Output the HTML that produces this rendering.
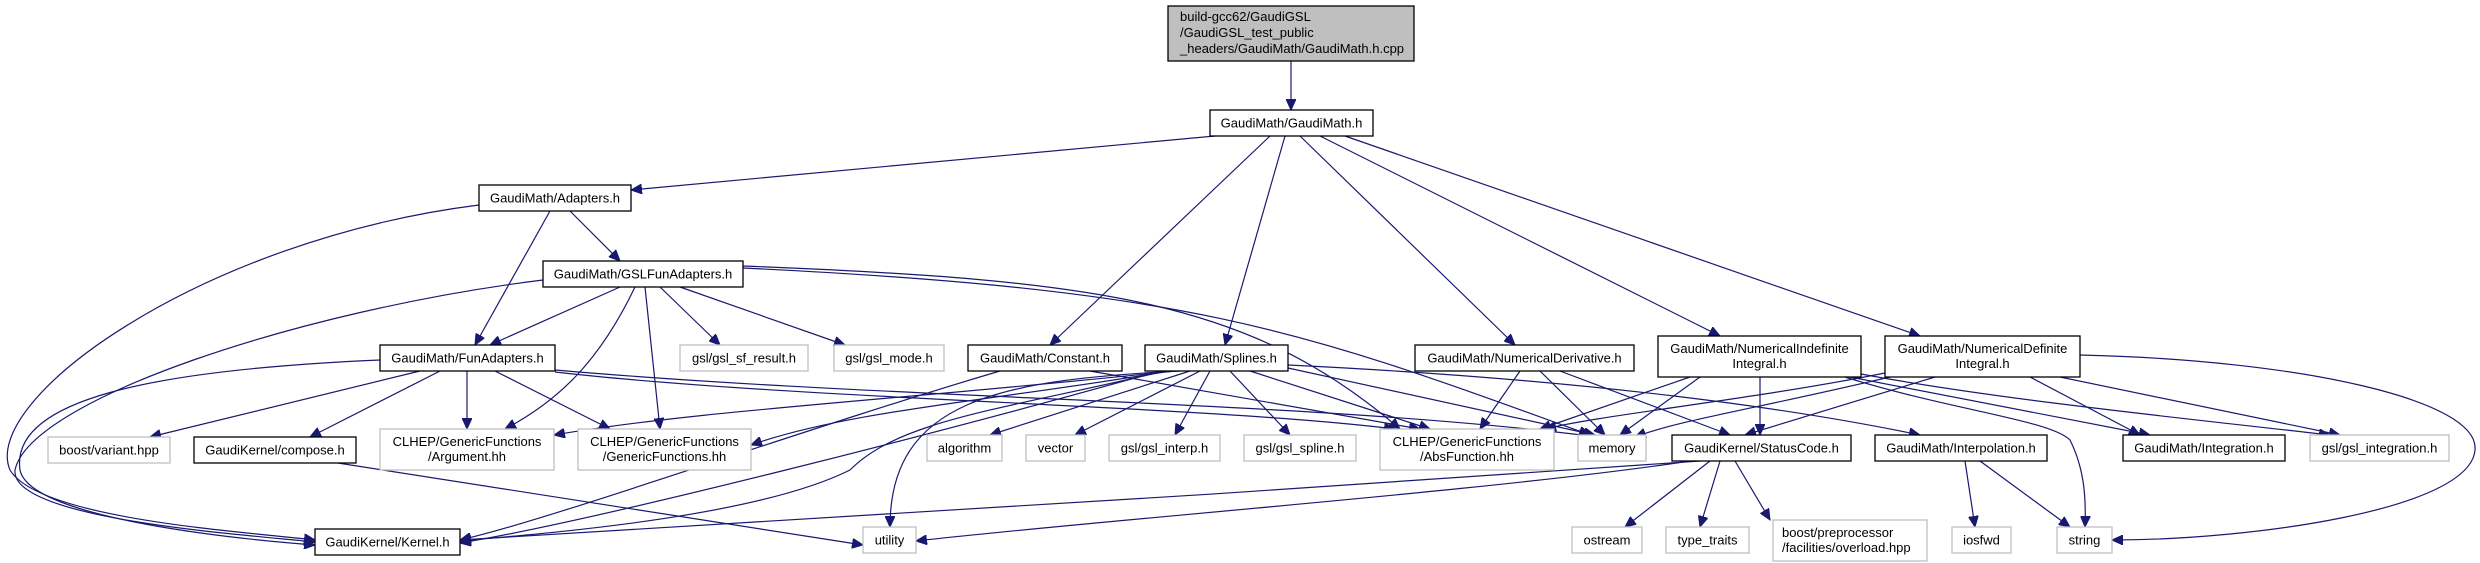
<!DOCTYPE html>
<html><head><meta charset="utf-8"><style>
html,body{margin:0;padding:0;background:#fff;}
svg{display:block;}
text{font-family:"Liberation Sans",sans-serif;font-size:13px;fill:#000;}
.b{fill:#fff;stroke:#000;stroke-width:1.3;}
.g{fill:#fff;stroke:#bfbfbf;stroke-width:1.3;}
.e{fill:none;stroke:#191970;stroke-width:1.2;marker-end:url(#a);}
</style></head><body>
<svg width="2480" height="563" viewBox="0 0 2480 563" xmlns="http://www.w3.org/2000/svg">
<defs><marker id="a" markerUnits="userSpaceOnUse" markerWidth="12" markerHeight="10" refX="11" refY="5" orient="auto"><path d="M0,0 L11,5 L0,10 z" fill="#191970" stroke="#191970"/></marker></defs>

<!-- edges -->
<path class="e" d="M1291,61 L1291,110"/>
<path class="e" d="M1215,136 L631,190"/>
<path class="e" d="M1270,136 L1050,345"/>
<path class="e" d="M1285,136 L1225,345"/>
<path class="e" d="M1300,136 L1515,345"/>
<path class="e" d="M1320,136 L1720,336"/>
<path class="e" d="M1345,136 L1920,336"/>
<path class="e" d="M550,211 L475,345"/>
<path class="e" d="M570,211 L620,261"/>
<path class="e" d="M479,205 C200,240 -20,400 10,470 C40,520 250,532 315,540"/>
<path class="e" d="M620,287 L490,345"/>
<path class="e" d="M635,287 C600,360 560,400 505,429"/>
<path class="e" d="M645,287 L660,429"/>
<path class="e" d="M660,287 L720,345"/>
<path class="e" d="M680,287 L845,345"/>
<path class="e" d="M543,280 C300,310 30,400 15,470 C10,520 250,535 315,542"/>
<path class="e" d="M743,266 C1100,280 1250,300 1400,429"/>
<path class="e" d="M743,268 C1200,290 1300,330 1590,435"/>
<path class="e" d="M420,371 L150,437"/>
<path class="e" d="M440,371 L310,437"/>
<path class="e" d="M467,371 L467,429"/>
<path class="e" d="M495,371 L610,429"/>
<path class="e" d="M380,360 C150,370 10,400 20,470 C30,520 250,540 315,545"/>
<path class="e" d="M555,372 C800,400 1200,405 1395,429"/>
<path class="e" d="M555,370 C900,400 1300,400 1590,436"/>
<path class="e" d="M325,461 L863,545"/>
<path class="e" d="M1000,371 C800,430 550,520 460,540"/>
<path class="e" d="M1090,371 L1420,429"/>
<path class="e" d="M1175,371 C900,400 700,410 554,435"/>
<path class="e" d="M1170,371 C1000,400 850,410 751,445"/>
<path class="e" d="M1165,371 C1000,410 900,420 850,470 C750,520 520,535 460,541"/>
<path class="e" d="M1160,371 C950,430 600,520 460,543"/>
<path class="e" d="M1190,371 L990,435"/>
<path class="e" d="M1200,371 L1075,435"/>
<path class="e" d="M1210,371 L1175,435"/>
<path class="e" d="M1230,371 L1290,435"/>
<path class="e" d="M1250,371 L1430,429"/>
<path class="e" d="M1288,368 L1595,435"/>
<path class="e" d="M1180,371 C1000,380 890,400 890,527"/>
<path class="e" d="M1288,365 C1600,380 1800,410 1920,435"/>
<path class="e" d="M1520,371 L1480,429"/>
<path class="e" d="M1540,371 L1605,435"/>
<path class="e" d="M1560,371 L1730,435"/>
<path class="e" d="M1690,377 L1540,429"/>
<path class="e" d="M1700,377 L1620,435"/>
<path class="e" d="M1760,377 L1760,435"/>
<path class="e" d="M1850,377 L2150,435"/>
<path class="e" d="M1861,374 C2000,400 2200,420 2330,435"/>
<path class="e" d="M1845,377 C1950,410 2050,420 2070,440 C2085,470 2086,500 2085,527"/>
<path class="e" d="M1885,373 C1750,400 1600,415 1545,429"/>
<path class="e" d="M1890,377 C1750,410 1680,420 1635,437"/>
<path class="e" d="M1935,377 L1745,435"/>
<path class="e" d="M2030,377 L2140,435"/>
<path class="e" d="M2060,377 L2340,435"/>
<path class="e" d="M2080,355 C2300,360 2480,400 2475,450 C2470,510 2250,540 2112,540"/>
<path class="e" d="M1700,461 C1300,490 800,520 460,540"/>
<path class="e" d="M1690,461 C1500,490 1100,520 916,541"/>
<path class="e" d="M1710,461 L1625,527"/>
<path class="e" d="M1720,461 L1700,527"/>
<path class="e" d="M1735,461 L1770,520"/>
<path class="e" d="M1965,461 L1975,527"/>
<path class="e" d="M1980,461 L2070,527"/>

<!-- nodes -->
<rect x="1168" y="6" width="246" height="55" fill="#bfbfbf" stroke="#000" stroke-width="1.3"/>
<text x="1180" y="21">build-gcc62/GaudiGSL</text>
<text x="1180" y="37">/GaudiGSL_test_public</text>
<text x="1180" y="53">_headers/GaudiMath/GaudiMath.h.cpp</text>

<rect class="b" x="1210" y="110" width="163" height="26"/><text x="1291.5" y="127.5" text-anchor="middle">GaudiMath/GaudiMath.h</text>
<rect class="b" x="479" y="185" width="152" height="26"/><text x="555" y="202.5" text-anchor="middle">GaudiMath/Adapters.h</text>
<rect class="b" x="543" y="261" width="200" height="26"/><text x="643" y="278.5" text-anchor="middle">GaudiMath/GSLFunAdapters.h</text>
<rect class="b" x="380" y="345" width="175" height="26"/><text x="467.5" y="362.5" text-anchor="middle">GaudiMath/FunAdapters.h</text>
<rect class="g" x="680" y="345" width="128" height="26"/><text x="744" y="362.5" text-anchor="middle">gsl/gsl_sf_result.h</text>
<rect class="g" x="834" y="345" width="110" height="26"/><text x="889" y="362.5" text-anchor="middle">gsl/gsl_mode.h</text>
<rect class="b" x="968" y="345" width="154" height="26"/><text x="1045" y="362.5" text-anchor="middle">GaudiMath/Constant.h</text>
<rect class="b" x="1145" y="345" width="143" height="26"/><text x="1216.5" y="362.5" text-anchor="middle">GaudiMath/Splines.h</text>
<rect class="b" x="1415" y="345" width="219" height="26"/><text x="1524.5" y="362.5" text-anchor="middle">GaudiMath/NumericalDerivative.h</text>
<rect class="b" x="1658" y="336" width="203" height="41"/><text x="1759.5" y="353" text-anchor="middle">GaudiMath/NumericalIndefinite</text><text x="1759.5" y="368" text-anchor="middle">Integral.h</text>
<rect class="b" x="1885" y="336" width="195" height="41"/><text x="1982.5" y="353" text-anchor="middle">GaudiMath/NumericalDefinite</text><text x="1982.5" y="368" text-anchor="middle">Integral.h</text>

<rect class="g" x="48" y="437" width="122" height="26"/><text x="109" y="454.5" text-anchor="middle">boost/variant.hpp</text>
<rect class="b" x="194" y="437" width="162" height="26"/><text x="275" y="454.5" text-anchor="middle">GaudiKernel/compose.h</text>
<rect class="g" x="380" y="429" width="174" height="41"/><text x="467" y="446" text-anchor="middle">CLHEP/GenericFunctions</text><text x="467" y="461" text-anchor="middle">/Argument.hh</text>
<rect class="g" x="578" y="429" width="173" height="41"/><text x="664.5" y="446" text-anchor="middle">CLHEP/GenericFunctions</text><text x="664.5" y="461" text-anchor="middle">/GenericFunctions.hh</text>
<rect class="g" x="927" y="435" width="75" height="26"/><text x="964.5" y="452.5" text-anchor="middle">algorithm</text>
<rect class="g" x="1026" y="435" width="59" height="26"/><text x="1055.5" y="452.5" text-anchor="middle">vector</text>
<rect class="g" x="1109" y="435" width="111" height="26"/><text x="1164.5" y="452.5" text-anchor="middle">gsl/gsl_interp.h</text>
<rect class="g" x="1244" y="435" width="112" height="26"/><text x="1300" y="452.5" text-anchor="middle">gsl/gsl_spline.h</text>
<rect class="g" x="1380" y="429" width="174" height="41"/><text x="1467" y="446" text-anchor="middle">CLHEP/GenericFunctions</text><text x="1467" y="461" text-anchor="middle">/AbsFunction.hh</text>
<rect class="g" x="1578" y="435" width="68" height="26"/><text x="1612" y="452.5" text-anchor="middle">memory</text>
<rect class="b" x="1672" y="435" width="179" height="26"/><text x="1761.5" y="452.5" text-anchor="middle">GaudiKernel/StatusCode.h</text>
<rect class="b" x="1875" y="435" width="172" height="26"/><text x="1961" y="452.5" text-anchor="middle">GaudiMath/Interpolation.h</text>
<rect class="b" x="2123" y="435" width="162" height="26"/><text x="2204" y="452.5" text-anchor="middle">GaudiMath/Integration.h</text>
<rect class="g" x="2310" y="435" width="139" height="26"/><text x="2379.5" y="452.5" text-anchor="middle">gsl/gsl_integration.h</text>

<rect class="b" x="315" y="529" width="145" height="26"/><text x="387.5" y="546.5" text-anchor="middle">GaudiKernel/Kernel.h</text>
<rect class="g" x="863" y="527" width="53" height="26"/><text x="889.5" y="544.5" text-anchor="middle">utility</text>
<rect class="g" x="1572" y="527" width="70" height="26"/><text x="1607" y="544.5" text-anchor="middle">ostream</text>
<rect class="g" x="1666" y="527" width="83" height="26"/><text x="1707.5" y="544.5" text-anchor="middle">type_traits</text>
<rect class="g" x="1773" y="520" width="154" height="41"/><text x="1782" y="537">boost/preprocessor</text><text x="1782" y="552">/facilities/overload.hpp</text>
<rect class="g" x="1952" y="527" width="59" height="26"/><text x="1981.5" y="544.5" text-anchor="middle">iosfwd</text>
<rect class="g" x="2057" y="527" width="55" height="26"/><text x="2084.5" y="544.5" text-anchor="middle">string</text>
</svg>
</body></html>
